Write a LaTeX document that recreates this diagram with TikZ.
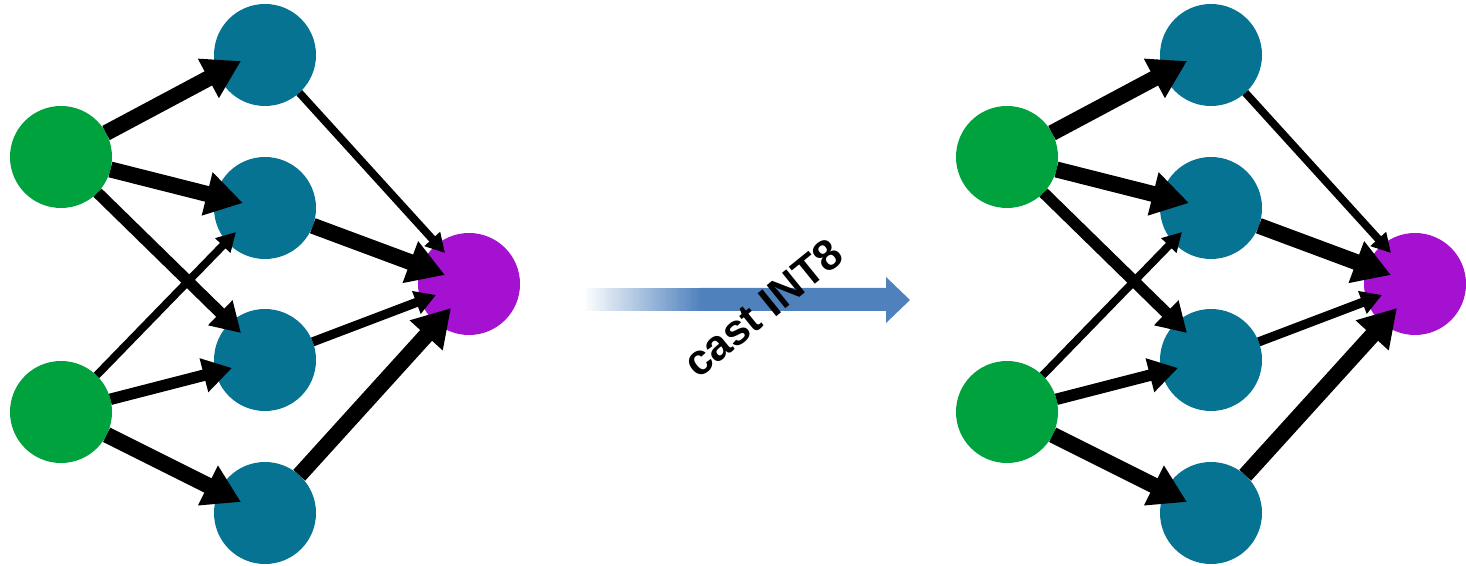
\documentclass[tikz,border=0pt]{standalone}
\usepackage{fontspec}
\setmainfont{Liberation Sans}
\usetikzlibrary{arrows.meta,calc}
\definecolor{ingreen}{HTML}{00A23E}
\definecolor{hidteal}{HTML}{067393}
\definecolor{outpurple}{HTML}{A511D1}
\definecolor{castblue}{HTML}{4F81BD}
\tikzset{
  neuron/.style={circle,minimum size=51pt,inner sep=0pt,outer sep=0pt},
  inp/.style={neuron,fill=ingreen},
  hid/.style={neuron,fill=hidteal},
  outn/.style={neuron,fill=outpurple},
  wthick/.style={line width=8pt,-{Triangle[length=18.5pt,width=21pt]}},
  wmid/.style={line width=5.75pt,-{Triangle[length=14.5pt,width=16.5pt]}},
  wlight/.style={line width=4.6pt,-{Triangle[length=10.5pt,width=11.5pt]}},
  wthin/.style={line width=3.9pt,-{Triangle[length=9.5pt,width=10pt]}},
}
% one small network: #1 = name prefix, #2 = horizontal offset
\newcommand{\qnet}[2]{%
  \node[inp] (#1g1) at (#2+61,157) {};
  \node[inp] (#1g2) at (#2+61,412) {};
  \node[hid] (#1b1) at (#2+265,55) {};
  \node[hid] (#1b2) at (#2+265,208) {};
  \node[hid] (#1b3) at (#2+265,360) {};
  \node[hid] (#1b4) at (#2+265,513) {};
  \node[outn] (#1p) at (#2+469,284) {};
  \draw[wthick] (#1g1) -- ($(#1b1)+(-24,6)$);
  \draw[wthick] (#1g1) -- ($(#1b2)+(-22,-5)$);
  \draw[wmid]   (#1g1) -- ($(#1b3)+(-24,-27)$);
  \draw[wthin]  (#1g2) -- ($(#1b2)+(-29,24)$);
  \draw[wmid]   (#1g2) -- ($(#1b3)+(-33,8)$);
  \draw[wthick] (#1g2) -- ($(#1b4)+(-24,-11)$);
  \draw[wthin]  (#1b1) -- ($(#1p)+(-24,-31)$);
  \draw[wthick] (#1b2) -- ($(#1p)+(-24,-9)$);
  \draw[wlight] (#1b3) -- ($(#1p)+(-33,11)$);
  \draw[wthick] (#1b4) -- ($(#1p)+(-18,24)$);
}
\begin{document}
\begin{tikzpicture}[x=0.5pt,y=-0.5pt]
  \useasboundingbox (0,0) rectangle (1466,566);
  \qnet{L}{0}
  \qnet{R}{946}
  % conversion arrow: fading tail built from thin strips, then solid body
  \foreach \i in {0,...,59}{
    \pgfmathtruncatemacro\pc{\i*100/59}
    \fill[castblue!\pc!white] (582+2*\i,288) rectangle (584.6+2*\i,311);
  }
  \fill[castblue] (700,288) -- (886,288) -- (886,277) -- (910,300)
    -- (886,323) -- (886,311) -- (700,311) -- cycle;
  \node[rotate=39,font=\bfseries\fontsize{21.5}{24}\selectfont,inner sep=0pt]
    (cast) at (763,308) {cast INT8};
\end{tikzpicture}
\end{document}
